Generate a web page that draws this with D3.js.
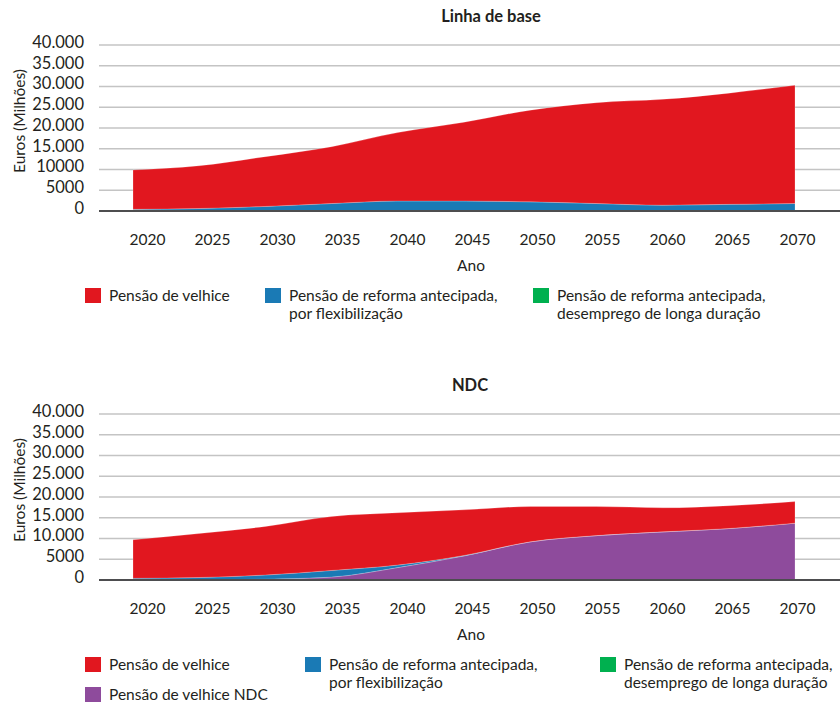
<!DOCTYPE html>
<html>
<head>
<meta charset="utf-8">
<script src="https://cdn.jsdelivr.net/npm/d3@7"></script>
<style>
  body { margin: 0; background: #fff; }
  text { font-family: Lato, "Open Sans", sans-serif; fill: #231f20; }
</style>
</head>
<body>
<svg id="chart" width="840" height="704"></svg>
<script>
// Years on the horizontal axis
const years = [2020, 2025, 2030, 2035, 2040, 2045, 2050, 2055, 2060, 2065, 2070];

// Vertical axis ticks and their printed labels (one panel prints "10000", the other "10.000")
const yTicks = [0, 5000, 10000, 15000, 20000, 25000, 30000, 35000, 40000];
const yLabelsBase = ["0", "5000", "10000", "15.000", "20.000", "25.000", "30.000", "35.000", "40.000"];
const yLabelsNdc  = ["0", "5000", "10.000", "15.000", "20.000", "25.000", "30.000", "35.000", "40.000"];

// Series names
const nameVelhice   = "Pensão de velhice";
const nameFlex      = ["Pensão de reforma antecipada,", "por flexibilização"];
const nameDesemp    = ["Pensão de reforma antecipada,", "desemprego de longa duração"];
const nameVelhiceNdc = "Pensão de velhice NDC";

// Linha de base scenario (million euros)
const baseDesemp  = [300, 100, 0, 0, 0, 0, 0, 0, 0, 0, 0];
const baseFlex    = [100, 500, 1100, 1800, 2400, 2400, 2200, 1800, 1400, 1600, 1800];
const baseVelhice = [9500, 10300, 12000, 13700, 16500, 19000, 22100, 24300, 25500, 26800, 28500];

// NDC scenario (million euros)
const ndcDesemp     = [100, 50, 0, 0, 0, 0, 0, 0, 0, 0, 0];
const ndcVelhiceNdc = [0, 0, 200, 700, 3000, 5800, 9200, 10700, 11600, 12400, 13700];
const ndcFlex       = [300, 550, 1000, 1600, 600, 100, 0, 0, 0, 0, 0];
const ndcVelhice    = [9300, 10600, 11700, 13000, 12600, 11000, 8500, 7000, 5800, 5500, 5200];

// Colours
const colVelhice = "#e1171f";
const colFlex    = "#1a7ab5";
const colDesemp  = "#00b04f";
const colNdc     = "#8e4b9c";

const svg = d3.select("#chart");

const x = d3.scaleLinear().domain([2020, 2070]).range([133, 795]);
const xLabel = d3.scalePoint().domain(years).range([147, 797]);

function drawPanel(top, title, titleX, yLabels, layers, legendItems, legendLayout) {
  const g = svg.append("g").attr("transform", `translate(0,${top})`);
  const y = d3.scaleLinear().domain([0, 40000]).range([211, 45]);

  // title
  g.append("text").attr("x", titleX).attr("y", 22)
    .attr("text-anchor", "middle").attr("font-weight", 700).attr("font-size", 16.5)
    .text(title);

  // gridlines
  g.append("g").selectAll("line").data(yTicks.filter(d => d > 0)).join("line")
    .attr("x1", 99).attr("x2", 840)
    .attr("y1", d => y(d)).attr("y2", d => y(d))
    .attr("stroke", "#c4c4c4").attr("stroke-width", 1.5);

  // y tick labels
  g.append("g").selectAll("text").data(yTicks).join("text")
    .attr("x", 84).attr("y", d => y(d) - 3).attr("dy", "0.35em")
    .attr("text-anchor", "end").attr("font-size", 16.5)
    .text((d, i) => yLabels[i]);

  // y axis title
  g.append("text").attr("transform", "translate(25,121) rotate(-90)")
    .attr("text-anchor", "middle").attr("font-size", 15.5)
    .text("Euros (Milhões)");

  // stacked areas
  const rows = years.map((yr, i) => {
    const r = { year: yr };
    layers.forEach(l => { r[l.key] = l.values[i]; });
    return r;
  });
  const stack = d3.stack().keys(layers.map(l => l.key));
  const series = stack(rows);
  const area = d3.area()
    .x(d => x(d.data.year))
    .y0(d => y(d[0])).y1(d => y(d[1]))
    .curve(d3.curveMonotoneX);
  g.append("g").selectAll("path").data(series).join("path")
    .attr("d", area)
    .attr("fill", (s, i) => layers[i].color)
    .attr("stroke", "rgba(255,255,255,0.35)").attr("stroke-width", 0.6);

  // baseline
  g.append("line").attr("x1", 99).attr("x2", 840)
    .attr("y1", y(0)).attr("y2", y(0))
    .attr("stroke", "#4d4d4f").attr("stroke-width", 2);

  // x tick labels
  const xAxis = d3.axisBottom(xLabel).tickSize(0).tickPadding(0).tickFormat(d3.format("d"));
  const ax = g.append("g").attr("transform", "translate(0,240)").call(xAxis);
  ax.select(".domain").remove();
  ax.selectAll("text").attr("font-size", 15.5).attr("dy", "0.35em").attr("fill", "#231f20")
    .style("font-family", "Lato, 'Open Sans', sans-serif");

  g.append("text").attr("x", 471).attr("y", 266).attr("dy", "0.35em")
    .attr("text-anchor", "middle").attr("font-size", 15.5).text("Ano");

  // legend
  legendItems.forEach((it, i) => {
    const p = legendLayout[i];
    const lg = g.append("g").attr("transform", `translate(${p[0]},${p[1]})`);
    lg.append("rect").attr("x", 0).attr("y", -8).attr("width", 16).attr("height", 15)
      .attr("fill", it.color);
    const lines = Array.isArray(it.label) ? it.label : [it.label];
    lines.forEach((ln, j) => {
      lg.append("text").attr("x", 24).attr("y", j * 18).attr("dy", "0.35em")
        .attr("font-size", 15.5).text(ln);
    });
  });
}

drawPanel(0, "Linha de base", 491, yLabelsBase,
  [
    { key: "desemp", values: baseDesemp, color: colDesemp },
    { key: "flex", values: baseFlex, color: colFlex },
    { key: "velhice", values: baseVelhice, color: colVelhice }
  ],
  [
    { label: nameVelhice, color: colVelhice },
    { label: nameFlex, color: colFlex },
    { label: nameDesemp, color: colDesemp }
  ],
  [[85, 296], [265, 296], [533, 296]]
);

drawPanel(369, "NDC", 470, yLabelsNdc,
  [
    { key: "desemp", values: ndcDesemp, color: colDesemp },
    { key: "ndc", values: ndcVelhiceNdc, color: colNdc },
    { key: "flex", values: ndcFlex, color: colFlex },
    { key: "velhice", values: ndcVelhice, color: colVelhice }
  ],
  [
    { label: nameVelhice, color: colVelhice },
    { label: nameFlex, color: colFlex },
    { label: nameDesemp, color: colDesemp },
    { label: nameVelhiceNdc, color: colNdc }
  ],
  [[85, 296], [305, 296], [600, 296], [85, 326]]
);
</script>
</body>
</html>
